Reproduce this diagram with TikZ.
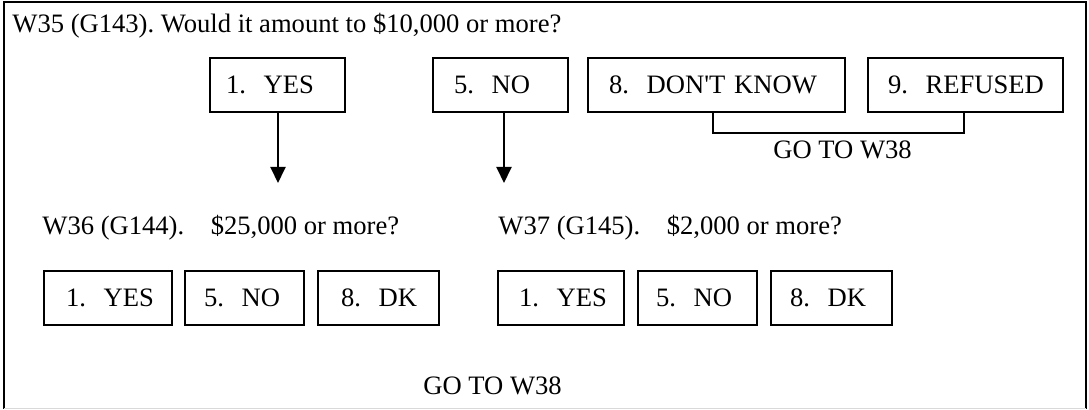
\documentclass[tikz,border=0pt]{standalone}
\usepackage{fontspec}
\setmainfont{Liberation Serif}
\usetikzlibrary{arrows.meta}
\tikzset{
  opt/.style={draw, line width=1pt, anchor=west, minimum height=27pt, align=left, inner ysep=0pt, font=\fontsize{13.3}{16}\selectfont},
  lbl/.style={anchor=base west, inner sep=0pt, font=\fontsize{13.3}{16}\selectfont},
  conn/.style={line width=1pt},
  arr/.style={line width=1pt, -{Triangle[length=8pt,width=7.5pt]}}
}
\begin{document}
\frenchspacing
\begin{tikzpicture}[x=0.5pt,y=-0.5pt]
\useasboundingbox (0,0) rectangle (1089,410);
% frame
\draw[line width=1pt] (4,409) -- (4,2) -- (1086,2) -- (1086,409);
\draw[line width=0.5pt, black!15] (4,409) -- (1086,409);
% question W35
\node[lbl] (q35) at (12,33) {W35 (G143). Would it amount to \$10,000 or more?};
% top options
\node[opt, inner xsep=8pt, text width=51.5pt] (yes1) at (209,85) {\mbox{1.~~YES}};
\node[opt, inner xsep=10.5pt, text width=46.5pt] (no1) at (432,85) {\mbox{5.~~NO}};
\node[opt, inner xsep=10.5pt, text width=107.5pt] (dk1) at (587,85) {\mbox{8.~~DON\textquotesingle T~KNOW}};
\node[opt, inner xsep=10pt, text width=77.5pt] (ref1) at (867,85) {\mbox{9.~~REFUSED}};
% arrows
\coordinate (a1) at (278,183);
\coordinate (a2) at (504,183);
\draw[arr] (yes1.south -| a1) -- (a1);
\draw[arr] (no1.south -| a2) -- (a2);
% bracket
\coordinate (b1) at (713,133);
\coordinate (b2) at (964,133);
\draw[conn] (dk1.south -| b1) -- (b1) -- (b2) -- (ref1.south -| b2);
\node[lbl] (go1) at (773,159) {GO TO W38};
% W36 / W37
\node[lbl] (q36) at (42,235) {W36 (G144).\quad\$25,000 or more?};
\node[lbl] (q37) at (498,235) {W37 (G145).\quad\$2,000 or more?};
% bottom options
\node[opt, inner xsep=11pt, text width=42pt] (yes2) at (43,298) {\mbox{1.~~YES}};
\node[opt, inner xsep=9.5pt, text width=40.5pt] (no2) at (184,298) {\mbox{5.~~NO}};
\node[opt, inner xsep=11.5pt, text width=37.5pt] (dk2) at (317,298) {\mbox{8.~~DK}};
\node[opt, inner xsep=10.5pt, text width=42pt] (yes3) at (497,298) {\mbox{1.~~YES}};
\node[opt, inner xsep=9pt, text width=41.5pt] (no3) at (637,298) {\mbox{5.~~NO}};
\node[opt, inner xsep=9.5pt, text width=41.5pt] (dk3) at (770,298) {\mbox{8.~~DK}};
\node[lbl] (go2) at (423,395) {GO TO W38};
\end{tikzpicture}
\end{document}
